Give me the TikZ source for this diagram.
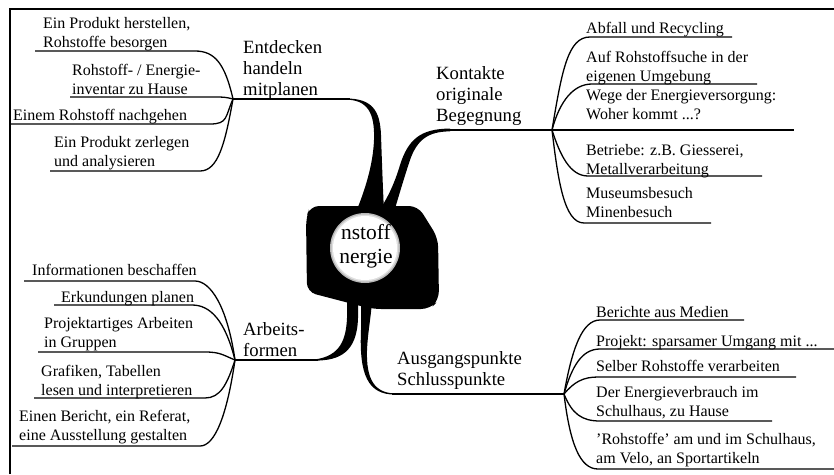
\documentclass[tikz,border=0pt]{standalone}
\usepackage{fontspec}
\setmainfont{Liberation Serif}
\begin{document}
\begin{tikzpicture}[x=1pt,y=-1pt,
  sm/.style={inner sep=0pt, anchor=north west, align=left, font=\fontsize{16}{19}\selectfont},
  bg/.style={inner sep=0pt, anchor=north west, align=left, font=\fontsize{18.7}{21}\selectfont},
  br/.style={line width=1.3pt, black},
  frame/.style={line width=1.5pt, black}]
\useasboundingbox (0,0) rectangle (834,474);
% frame
\coordinate (f1) at (10,474);
\coordinate (f2) at (10,9);
\coordinate (f3) at (834,9);
\draw[frame] (f1) -- (f2) -- (f3);

% hubs
\coordinate (E0) at (233,99);
\coordinate (K0) at (552,130);
\coordinate (A0) at (564,394);
\coordinate (B0) at (235,360);

% central blob
\fill[black, rounded corners=9pt] (306,218) -- (310,206) -- (418,206) -- (438,238) -- (439,300) -- (430,309) -- (372,309) -- (307,292) -- cycle;
% tentacles
\fill[black] (345,98.4) .. controls (372,98.4) and (380,110) .. (381,135) .. controls (382,165) and (383,190) .. (384,212)
  -- (356,212) .. controls (365,190) and (373,165) .. (374,140) .. controls (375,112) and (367,99.6) .. (345,99.6) -- cycle;
\fill[black] (450,128.6) .. controls (420,128.6) and (408,140) .. (400,165) .. controls (395,182) and (388,198) .. (378,212)
  -- (394,212) .. controls (399,195) and (405,175) .. (410,160) .. controls (417,140) and (428,131.4) .. (450,131.4) -- cycle;
\fill[black] (347,300) -- (347,318) .. controls (346,340) and (340,356) .. (315,359.4) -- (315,360.6) .. controls (340,360.6) and (357,352) .. (358,318) -- (358,300) -- cycle;
\fill[black] (361,300) -- (361,330) .. controls (359,375) and (368,394.6) .. (395,394.6) -- (395,393.4) .. controls (375,393) and (366,380) .. (367,350) .. controls (368,330) and (371,318) .. (372,300) -- cycle;

% centre circle
\fill[gray!55] (365,248) circle (35);
\fill[gray!25] (365,248) circle (33.5);
\fill[white] (365,248) circle (32);
\node[inner sep=0pt, align=center, font=\fontsize{21.5}{24}\selectfont] (C) at (366,246) {nstoff\\nergie};

% main lines
\coordinate (Et) at (350,99);
\coordinate (Kt) at (445,130);
\coordinate (At) at (392,394);
\coordinate (Bt) at (318,360);
\draw[br] (E0) -- (Et);
\draw[br] (K0) -- (Kt);
\draw[br] (A0) -- (At);
\draw[br] (B0) -- (Bt);

% category labels
\node[bg] (EL) at (243,38.3) {\strut Entdecken\\handeln\\mitplanen};
\node[bg] (KL) at (436,64.3) {\strut Kontakte\\originale\\Begegnung};
\node[bg] (AL) at (397,349.3) {\strut Ausgangspunkte\\Schlusspunkte};
\node[bg] (BL) at (243,320.3) {\strut Arbeits-\\formen};

% Entdecken branches
\node[sm] (e1) at (43,14.7) {\strut Ein Produkt herstellen,\\Rohstoffe besorgen};
\node[sm] (e2) at (72,61.7) {\strut Rohstoff- / Energie-\\inventar zu Hause};
\node[sm] (e3) at (13,106.7) {\strut Einem Rohstoff nachgehen};
\node[sm] (e4) at (54,133.7) {\strut Ein Produkt zerlegen\\und analysieren};
\coordinate (e1a) at (195,51);  \coordinate (e1b) at (35,51);
\coordinate (e2a) at (215,97);  \coordinate (e2b) at (70,97);
\coordinate (e3a) at (210,124); \coordinate (e3b) at (10,124);
\coordinate (e4a) at (200,171); \coordinate (e4b) at (50,171);
\draw[br] (E0) .. controls +(-8,-35) and +(20,0) .. (e1a) -- (e1b);
\draw[br] (E0) .. controls +(-8,-2) and +(8,0) .. (e2a) -- (e2b);
\draw[br] (E0) .. controls +(-8,18) and +(18,0) .. (e3a) -- (e3b);
\draw[br] (E0) .. controls +(-8,45) and +(18,0) .. (e4a) -- (e4b);

% Kontakte branches
\node[sm] (k1) at (586,19.7) {\strut Abfall und Recycling};
\node[sm] (k2) at (586,48.7) {\strut Auf Rohstoffsuche in der\\eigenen Umgebung};
\node[sm] (k3) at (586,86.7) {\strut Wege der Energieversorgung:\\Woher kommt ...?};
\node[sm] (k4) at (586,141.7) {\strut Betriebe: z.B. Giesserei,\\Metallverarbeitung};
\node[sm] (k5) at (586,184.7) {\strut Museumsbesuch\\Minenbesuch};
\coordinate (k1a) at (590,37);  \coordinate (k1b) at (732,37);
\coordinate (k2a) at (592,84);  \coordinate (k2b) at (757,84);
\coordinate (k3b) at (794,130);
\coordinate (k4a) at (588,176); \coordinate (k4b) at (762,176);
\coordinate (k5a) at (584,223); \coordinate (k5b) at (711,223);
\draw[br] (K0) .. controls +(10,-60) and +(-22,0) .. (k1a) -- (k1b);
\draw[br] (K0) .. controls +(8,-30) and +(-18,0) .. (k2a) -- (k2b);
\draw[br] (K0) -- (k3b);
\draw[br] (K0) .. controls +(8,25) and +(-18,0) .. (k4a) -- (k4b);
\draw[br] (K0) .. controls +(6,50) and +(-20,0) .. (k5a) -- (k5b);

% Ausgangspunkte branches
\node[sm] (a1) at (596,303.7) {\strut Berichte aus Medien};
\node[sm] (a2) at (596,332.7) {\strut Projekt: sparsamer Umgang mit ...};
\node[sm] (a3) at (596,357.7) {\strut Selber Rohstoffe verarbeiten};
\node[sm] (a4) at (596,383.7) {\strut Der Energieverbrauch im\\Schulhaus, zu Hause};
\node[sm] (a5) at (596,430.7) {\strut 'Rohstoffe' am und im Schulhaus,\\am Velo, an Sportartikeln};
\coordinate (a1a) at (600,320); \coordinate (a1b) at (744,320);
\coordinate (a2a) at (600,349); \coordinate (a2b) at (834,349);
\coordinate (a3a) at (598,377); \coordinate (a3b) at (796,377);
\coordinate (a4a) at (600,421); \coordinate (a4b) at (772,421);
\coordinate (a5a) at (598,469); \coordinate (a5b) at (834,469);
\draw[br] (A0) .. controls +(8,-45) and +(-18,0) .. (a1a) -- (a1b);
\draw[br] (A0) .. controls +(8,-28) and +(-18,0) .. (a2a) -- (a2b);
\draw[br] (A0) .. controls +(10,-12) and +(-15,0) .. (a3a) -- (a3b);
\draw[br] (A0) .. controls +(8,20) and +(-18,0) .. (a4a) -- (a4b);
\draw[br] (A0) .. controls +(6,50) and +(-18,0) .. (a5a) -- (a5b);

% Arbeitsformen branches
\node[sm] (b1) at (32,261.7) {\strut Informationen beschaffen};
\node[sm] (b2) at (61,288.7) {\strut Erkundungen planen};
\node[sm] (b3) at (44,314.7) {\strut Projektartiges Arbeiten\\in Gruppen};
\node[sm] (b4) at (41,362.7) {\strut Grafiken, Tabellen\\lesen und interpretieren};
\node[sm] (b5) at (19,407.7) {\strut Einen Bericht, ein Referat,\\eine Ausstellung gestalten};
\coordinate (b1a) at (195,281); \coordinate (b1b) at (24,281);
\coordinate (b2a) at (192,305); \coordinate (b2b) at (54,305);
\coordinate (b3a) at (205,352); \coordinate (b3b) at (38,352);
\coordinate (b4a) at (205,398); \coordinate (b4b) at (34,398);
\coordinate (b5a) at (200,446); \coordinate (b5b) at (12,446);
\draw[br] (B0) .. controls +(-8,-55) and +(15,0) .. (b1a) -- (b1b);
\draw[br] (B0) .. controls +(-10,-40) and +(18,0) .. (b2a) -- (b2b);
\draw[br] (B0) .. controls +(-12,-5) and +(15,0) .. (b3a) -- (b3b);
\draw[br] (B0) .. controls +(-8,25) and +(15,0) .. (b4a) -- (b4b);
\draw[br] (B0) .. controls +(-8,55) and +(15,0) .. (b5a) -- (b5b);
\end{tikzpicture}
\end{document}
